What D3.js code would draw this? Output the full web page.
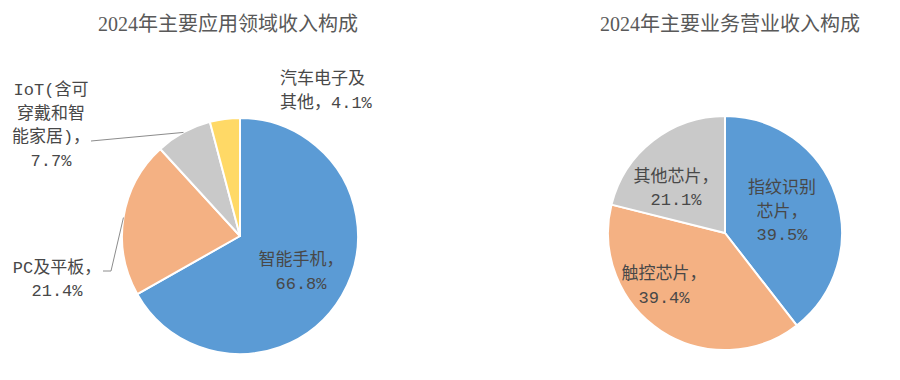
<!DOCTYPE html>
<html><head><meta charset="utf-8">
<script src="https://cdn.jsdelivr.net/npm/d3@7"></script>
<style>
html,body{margin:0;padding:0;background:#fff;}
svg{display:block;}
</style></head>
<body>
<svg id="chart" width="900" height="380"></svg>
<script>
// ---- data ----
const appTitle = "2024年主要应用领域收入构成";
const appCategories = ["智能手机", "PC及平板", "IoT(含可穿戴和智能家居)", "汽车电子及其他"];
const appValues = [66.8, 21.4, 7.7, 4.1];
const appLabelLines = [["智能手机"], ["PC及平板"], ["IoT(含可", "穿戴和智", "能家居)"], ["汽车电子及", "其他"]];

const bizTitle = "2024年主要业务营业收入构成";
const bizCategories = ["指纹识别芯片", "触控芯片", "其他芯片"];
const bizValues = [39.5, 39.4, 21.1];
const bizLabelLines = [["指纹识别", "芯片"], ["触控芯片"], ["其他芯片"]];

// ---- styling / layout ----
const colors = ["#5B9BD5", "#F4B183", "#C9C9C9", "#FFD966"];
const fontFam = "'Liberation Mono','Noto Sans CJK SC',sans-serif";

const pies = [
  {title: appTitle, titleX: 228, cats: appCategories, vals: appValues, lines: appLabelLines,
   cx: 240, cy: 236, r: 118,
   labels: [
     {dx: 61, dy: 29, anchor: "middle", lh: 24},
     {dx: -183, dy: 37, anchor: "middle", lh: 23, leader: [[-137, 35], [-129, 35]]},
     {dx: -189, dy: -141, anchor: "middle", lh: 23.5, leader: [[-149, -95]]},
     {dx: 40, dy: -152, anchor: "start", lh: 24, inline: true}
   ]},
  {title: bizTitle, titleX: 730, cats: bizCategories, vals: bizValues, lines: bizLabelLines,
   cx: 725, cy: 233, r: 117,
   labels: [
     {dx: 57, dy: -40, anchor: "middle", lh: 23.5},
     {dx: -61, dy: 46, anchor: "middle", lh: 24},
     {dx: -49, dy: -51, anchor: "middle", lh: 23}
   ]}
];

const svg = d3.select("#chart");

pies.forEach(p => {
  svg.append("text")
    .attr("x", p.titleX).attr("y", 31)
    .attr("text-anchor", "middle")
    .attr("font-family", "'Liberation Serif','Noto Sans CJK SC',serif")
    .attr("font-size", 20)
    .attr("fill", "#595959")
    .text(p.title);

  const pie = d3.pie().sort(null).value(d => d)(p.vals);
  const arc = d3.arc().innerRadius(0).outerRadius(p.r);
  const g = svg.append("g").attr("transform", `translate(${p.cx},${p.cy})`);

  g.selectAll("path").data(pie).join("path")
    .attr("d", arc)
    .attr("fill", (d, i) => colors[i])
    .attr("stroke", "#fff")
    .attr("stroke-width", 2)
    .attr("stroke-linejoin", "round");

  const edgeArc = d3.arc().innerRadius(p.r).outerRadius(p.r);

  pie.forEach((d, i) => {
    const L = p.labels[i];
    if (L.leader) {
      const pts = L.leader.slice();
      pts.push(edgeArc.centroid(d));
      g.append("path")
        .attr("d", d3.line()(pts))
        .attr("fill", "none")
        .attr("stroke", "#8c8c8c")
        .attr("stroke-width", 1);
    }
    const valStr = d3.format(".1f")(p.vals[i]) + "%";
    let lines = p.lines[i].slice();
    const last = lines.length - 1;
    if (L.inline) {
      lines[last] = lines[last] + "，" + valStr;
    } else {
      lines[last] = lines[last] + "，";
      lines.push(valStr);
    }
    const t = g.append("text")
      .attr("text-anchor", L.anchor)
      .attr("font-family", fontFam)
      .attr("font-size", 17)
      .attr("fill", "#484848");
    lines.forEach((s, k) => {
      t.append("tspan").attr("x", L.dx).attr("y", L.dy + k * L.lh).text(s);
    });
  });
});
</script>
</body></html>
